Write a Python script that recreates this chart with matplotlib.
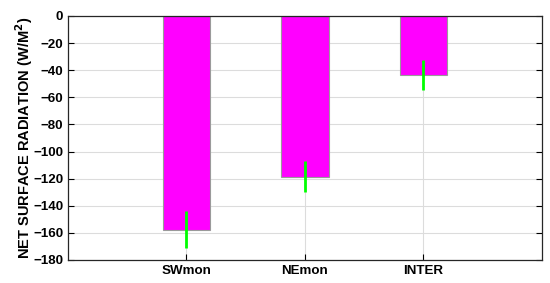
import numpy as np
import matplotlib
matplotlib.use("Agg")
import matplotlib.pyplot as plt

plt.rcParams['font.family'] = ['Liberation Sans', 'DejaVu Sans']
plt.rcParams['font.weight'] = 'bold'

categories = ['SWmon', 'NEmon', 'INTER']
values = [-157.5, -118.5, -43.5]
errors = [14.0, 11.5, 11.3]

fig = plt.figure(figsize=(5.5, 2.83), dpi=100)
ax = fig.add_axes([68 / 550, 1 - 260 / 283, (541.7 - 68) / 550, 244 / 283])

x = np.arange(1, len(categories) + 1)
ax.bar(x, values, width=0.4, color='#ff00ff', edgecolor='#9a9a9a', linewidth=0.8, zorder=2)
ax.errorbar(x, values, yerr=errors, fmt='none', ecolor='#00ff00', elinewidth=2, capsize=0, zorder=3)

ax.set_xlim(0, 4)
ax.set_ylim(-180, 0)
ax.set_yticks(np.arange(-180, 1, 20))
ax.set_xticks(x)
ax.set_xticklabels(categories)

ax.grid(True, color='#dcdcdc', linewidth=0.8, zorder=0)
ax.set_axisbelow(True)
ax.tick_params(direction='in', length=4, width=0.8, top=True, right=True,
               labelsize=9.6, pad=3.5)
for lab in ax.get_xticklabels() + ax.get_yticklabels():
    lab.set_fontweight('bold')
for s in ax.spines.values():
    s.set_linewidth(0.9)
    s.set_color('#262626')

ax.set_ylabel('NET SURFACE RADIATION (W/M$^{\\mathbf{2}}$)', fontsize=10.5, fontweight='bold')
ax.yaxis.set_label_coords(-0.07, 0.5)

fig.savefig('out.png', dpi=100)
